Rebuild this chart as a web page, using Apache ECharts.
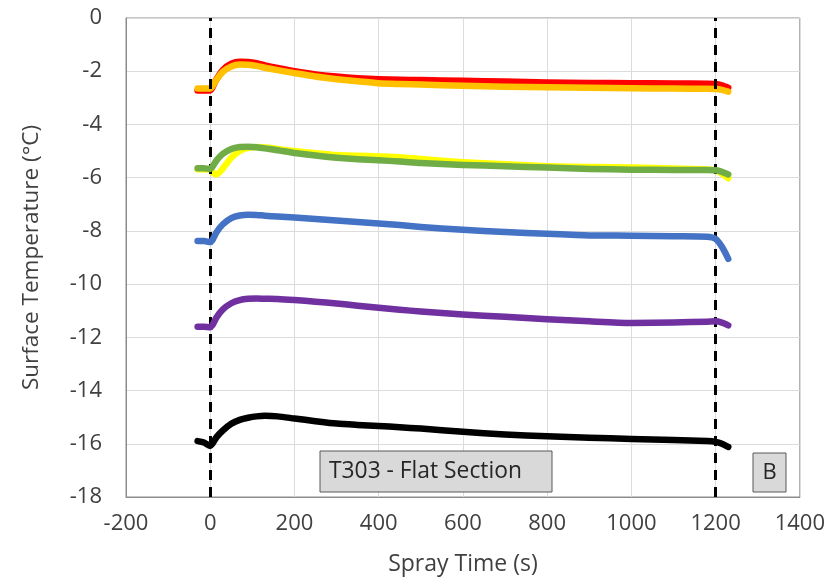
<!DOCTYPE html>
<html>
<head>
<meta charset="utf-8">
<script src="https://cdn.jsdelivr.net/npm/echarts@6/dist/echarts.min.js"></script>
<style>
html,body{margin:0;padding:0;background:#fff;}
#chart{width:828px;height:581px;}
</style>
</head>
<body>
<div id="chart"></div>
<script>
// Shared time axis (s)
const timeS = [-30, -15, 0, 5, 15, 30, 50, 70, 90, 110, 130, 160, 200, 250, 300, 350, 400, 450, 500, 600, 700, 800, 900, 1000, 1100, 1180, 1200, 1215, 1230];

const redT    = [-2.72,-2.72,-2.72,-2.62,-2.3,-1.95,-1.72,-1.64,-1.65,-1.7,-1.78,-1.88,-2.0,-2.12,-2.2,-2.26,-2.3,-2.32,-2.33,-2.36,-2.39,-2.42,-2.44,-2.45,-2.46,-2.47,-2.48,-2.53,-2.62];
const orangeT = [-2.65,-2.65,-2.65,-2.57,-2.32,-2.02,-1.82,-1.75,-1.76,-1.8,-1.87,-1.96,-2.07,-2.2,-2.3,-2.38,-2.45,-2.48,-2.5,-2.55,-2.58,-2.6,-2.62,-2.64,-2.65,-2.66,-2.67,-2.7,-2.77];
const yellowT = [-5.68,-5.68,-5.7,-5.8,-5.88,-5.65,-5.25,-5.0,-4.88,-4.85,-4.87,-4.92,-5.0,-5.08,-5.15,-5.18,-5.2,-5.23,-5.3,-5.42,-5.5,-5.57,-5.6,-5.62,-5.66,-5.69,-5.72,-5.85,-6.02];
const greenT  = [-5.65,-5.65,-5.67,-5.6,-5.35,-5.1,-4.92,-4.85,-4.84,-4.86,-4.9,-4.97,-5.07,-5.17,-5.25,-5.31,-5.35,-5.39,-5.45,-5.52,-5.57,-5.62,-5.67,-5.7,-5.71,-5.71,-5.72,-5.78,-5.88];
const blueT   = [-8.38,-8.38,-8.42,-8.35,-8.05,-7.75,-7.52,-7.42,-7.39,-7.4,-7.43,-7.46,-7.5,-7.55,-7.61,-7.67,-7.72,-7.78,-7.85,-7.96,-8.04,-8.11,-8.17,-8.18,-8.2,-8.22,-8.3,-8.6,-9.05];
const purpleT = [-11.6,-11.6,-11.62,-11.55,-11.25,-10.95,-10.72,-10.6,-10.55,-10.54,-10.55,-10.56,-10.6,-10.66,-10.73,-10.81,-10.89,-10.96,-11.03,-11.14,-11.23,-11.32,-11.4,-11.46,-11.44,-11.41,-11.4,-11.45,-11.55];
const blackT  = [-15.9,-15.95,-16.08,-16.0,-15.75,-15.5,-15.25,-15.1,-15.02,-14.97,-14.95,-14.97,-15.05,-15.15,-15.24,-15.29,-15.33,-15.38,-15.43,-15.55,-15.65,-15.72,-15.77,-15.82,-15.86,-15.9,-15.93,-16.0,-16.12];

const seriesValues = [redT, orangeT, yellowT, greenT, blueT, purpleT, blackT];
const seriesColors = ['#FF0000', '#FFC000', '#FFFF00', '#70AD47', '#4472C4', '#7030A0', '#000000'];

// Spray start / end markers (s)
const markerTimes = [0, 1200];

// Axis ticks
const xMin = -200, xMax = 1400, xStep = 200;
const yMin = -18, yMax = 0, yStep = 2;

const FONT = '"Open Sans", sans-serif';
const TXT = '#404040';

const chart = echarts.init(document.getElementById('chart'), null, {renderer: 'canvas'});

const lineSeries = seriesValues.map((vals, i) => ({
  type: 'line',
  data: timeS.map((t, k) => [t, vals[k]]),
  showSymbol: false,
  smooth: 0.25,
  lineStyle: {width: 6.5, color: seriesColors[i], cap: 'round', join: 'round'},
  itemStyle: {color: seriesColors[i]},
  z: 2 + i,
  silent: true
}));

lineSeries.push({
  type: 'line',
  data: [],
  z: 20,
  markLine: {
    silent: true,
    symbol: ['none', 'none'],
    label: {show: false},
    lineStyle: {type: [10, 7], width: 3, color: '#000'},
    data: markerTimes.map(v => ({xAxis: v}))
  }
});

chart.setOption({
  backgroundColor: '#fff',
  animation: false,
  grid: {left: 126, right: 28, top: 18, bottom: 82, show: true, borderColor: '#8c8c8c', borderWidth: 1},
  xAxis: {
    type: 'value', min: xMin, max: xMax, interval: xStep,
    name: 'Spray Time (s)', nameLocation: 'middle', nameGap: 56,
    nameTextStyle: {fontFamily: FONT, fontSize: 23, color: TXT},
    axisLine: {show: true, onZero: false, lineStyle: {color: '#8c8c8c'}},
    axisTick: {show: false},
    axisLabel: {fontFamily: FONT, fontSize: 22, color: TXT, margin: 16, formatter: v => String(v)},
    splitLine: {show: true, lineStyle: {color: '#dcdcdc', width: 1}}
  },
  yAxis: {
    type: 'value', min: yMin, max: yMax, interval: yStep,
    name: 'Surface Temperature (°C)', nameLocation: 'middle', nameGap: 83,
    nameTextStyle: {fontFamily: FONT, fontSize: 22.5, color: TXT},
    axisLine: {show: true, onZero: false, lineStyle: {color: '#8c8c8c'}},
    axisTick: {show: false},
    axisLabel: {fontFamily: FONT, fontSize: 22, color: TXT, margin: 24, formatter: v => String(v)},
    splitLine: {show: true, lineStyle: {color: '#dcdcdc', width: 1}}
  },
  graphic: [
    {type: 'rect', shape: {x: 320, y: 451, width: 232, height: 41}, style: {fill: '#d9d9d9', stroke: '#595959', lineWidth: 1}, z: 30},
    {type: 'text', x: 329, y: 471.5, style: {text: 'T303 - Flat Section', font: '22.8px ' + FONT, fill: '#262626', textVerticalAlign: 'middle'}, z: 31},
    {type: 'rect', shape: {x: 753, y: 453, width: 33, height: 39}, style: {fill: '#d9d9d9', stroke: '#595959', lineWidth: 1}, z: 30},
    {type: 'text', x: 769.5, y: 472.5, style: {text: 'B', font: '22px ' + FONT, fill: '#262626', textAlign: 'center', textVerticalAlign: 'middle'}, z: 31}
  ],
  series: lineSeries
});
</script>
</body>
</html>
